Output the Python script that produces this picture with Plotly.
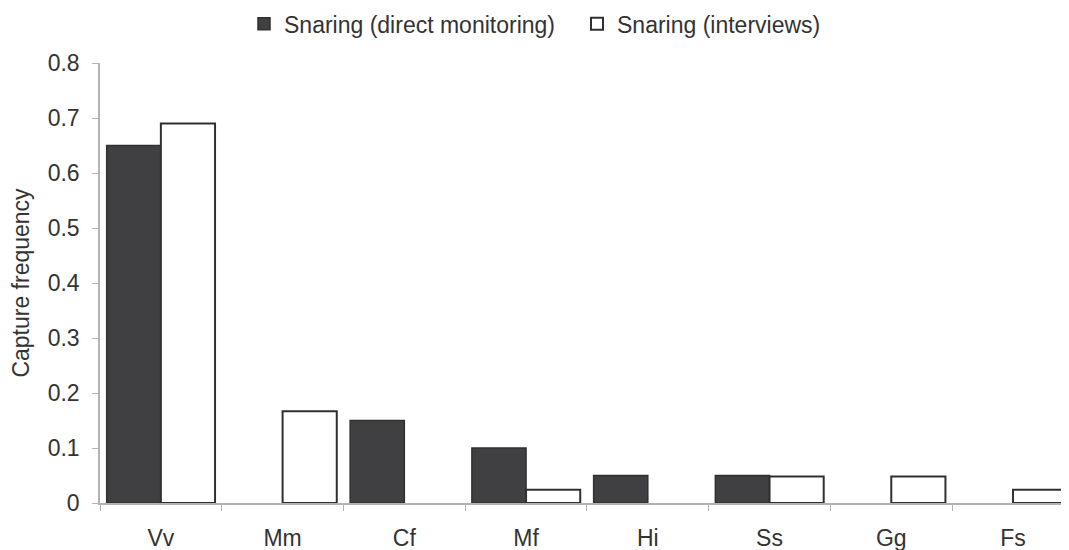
import plotly.graph_objects as go

categories = ["Vv", "Mm", "Cf", "Mf", "Hi", "Ss", "Gg", "Fs"]
direct_monitoring = [0.65, 0, 0.15, 0.10, 0.05, 0.05, 0, 0]
interviews = [0.690, 0.167, 0, 0.024, 0, 0.048, 0.048, 0.024]
series_names = ["Snaring (direct monitoring)", "Snaring (interviews)"]
y_ticks = [0, 0.1, 0.2, 0.3, 0.4, 0.5, 0.6, 0.7, 0.8]
y_tick_text = ["0", "0.1", "0.2", "0.3", "0.4", "0.5", "0.6", "0.7", "0.8"]

FONT = "Liberation Sans, Arial, sans-serif"
TXT = "#333333"
AX = "#b3b3b3"
FS = 23


def nz(vals):
    return [v if v > 0 else None for v in vals]


fig = go.Figure()
fig.add_trace(go.Bar(
    x=categories, y=nz(direct_monitoring), name=series_names[0],
    marker=dict(color="#404042", line=dict(color="#303030", width=1.5)),
))
fig.add_trace(go.Bar(
    x=categories, y=nz(interviews), name=series_names[1],
    marker=dict(color="#ffffff", line=dict(color="#303030", width=2)),
))

# page body has an 8px default margin, so the figure is 8px smaller
fig.update_layout(
    width=1061, height=542,
    margin=dict(l=92, r=0, t=55, b=47, autoexpand=False),
    paper_bgcolor="white", plot_bgcolor="white",
    barmode="group", bargap=0.11, bargroupgap=0,
    font=dict(family=FONT, size=FS, color=TXT),
    showlegend=True,
    legend=dict(
        orientation="h", x=0.1486, xanchor="left", y=1.138, yanchor="top",
        font=dict(family=FONT, size=FS, color=TXT),
        itemwidth=30, entrywidth=288, entrywidthmode="pixels",
    ),
    xaxis=dict(
        type="category", range=[-0.5, 7.46],
        showline=True, linecolor=AX, linewidth=1.5,
        ticks="outside", ticklen=6, tickcolor=AX, tickwidth=1,
        tickson="boundaries", showgrid=False, zeroline=False,
        tickfont=dict(family=FONT, size=FS, color=TXT),
        ticklabelstandoff=14,
    ),
    yaxis=dict(
        range=[0, 0.8], tickvals=y_ticks, ticktext=y_tick_text,
        showline=True, linecolor=AX, linewidth=1.5,
        ticks="outside", ticklen=6, tickcolor=AX, tickwidth=1,
        showgrid=False, zeroline=False,
        tickfont=dict(family=FONT, size=FS, color=TXT),
        ticklabelstandoff=8,
        title=dict(text="Capture frequency", standoff=12,
                   font=dict(family=FONT, size=FS, color=TXT)),
    ),
)

fig.write_html("out.html")
